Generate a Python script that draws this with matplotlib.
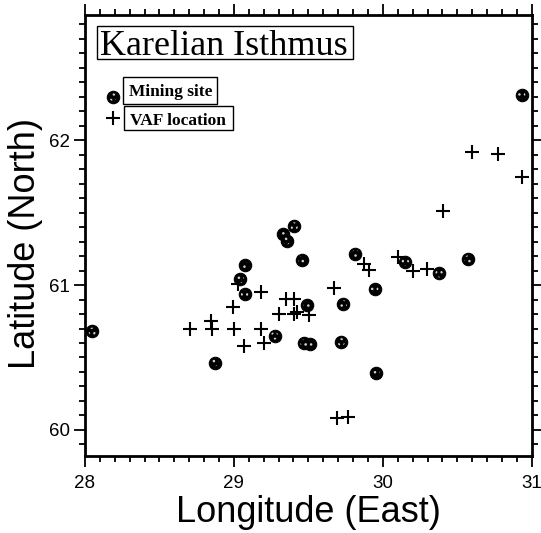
import numpy as np
import matplotlib
matplotlib.use('Agg')
import matplotlib.pyplot as plt
from matplotlib.ticker import MultipleLocator
from matplotlib.patches import Rectangle

# mining sites (lon, lat)
mine_lon = [28.05, 28.87, 29.405, 29.333, 29.354, 29.456, 29.072, 29.042, 29.072, 29.494,
            29.273, 29.472, 29.510, 30.931, 29.816, 30.150, 30.378, 30.573, 29.944, 29.734,
            29.720, 29.953]
mine_lat = [60.68, 60.465, 61.407, 61.350, 61.306, 61.172, 61.136, 61.041, 60.940, 60.864,
            60.650, 60.598, 60.591, 62.315, 61.216, 61.161, 61.080, 61.179, 60.975, 60.869,
            60.607, 60.395]

# VAF locations
vaf_lon = [28.702, 28.843, 28.852, 28.993, 29.002, 29.025, 29.067, 29.181, 29.181, 29.199,
           29.302, 29.349, 29.403, 29.403, 29.425, 29.504, 29.669, 29.875, 29.906, 30.105,
           30.203, 30.297, 30.401, 30.600, 30.770, 30.931, 29.695, 29.767]
vaf_lat = [60.697, 60.752, 60.694, 60.851, 60.699, 61.007, 60.577, 60.952, 60.697, 60.598,
           60.800, 60.901, 60.901, 60.800, 60.816, 60.796, 60.983, 61.145, 61.103, 61.191,
           61.097, 61.108, 61.510, 61.917, 61.906, 61.743, 60.080, 60.089]

xmin, xmax = 28, 31
ymin, ymax = 59.82, 62.865

plt.rcParams['hatch.linewidth'] = 1.0

fig = plt.figure(figsize=(5.41, 5.33), dpi=100)
ax = fig.add_axes([0.157, 0.1445, 0.826, 0.8274])


def mine_marker(x, y, **kw):
    ax.scatter(x, y, s=80, facecolor='black', edgecolor='black', linewidths=0.8, zorder=3, **kw)
    ax.scatter(x, y, s=30, facecolor='none', edgecolor='#d0d0d0', linewidths=0,
               hatch='...', zorder=4, **kw)


def vaf_marker(x, y, **kw):
    ax.scatter(x, y, marker='+', s=95, color='black', linewidths=1.5, zorder=3, **kw)


mine_marker(mine_lon, mine_lat)
vaf_marker(vaf_lon, vaf_lat)

ax.set_xlim(xmin, xmax)
ax.set_ylim(ymin, ymax)
ax.xaxis.set_major_locator(MultipleLocator(1))
ax.xaxis.set_minor_locator(MultipleLocator(0.1))
ax.yaxis.set_major_locator(MultipleLocator(1))
ax.yaxis.set_minor_locator(MultipleLocator(0.1))
ax.tick_params(which='both', direction='out', top=True, right=True, width=1.3)
ax.tick_params(which='major', length=8, labelsize=13.5)
ax.tick_params(axis='x', which='major', pad=6)
ax.tick_params(axis='y', which='major', pad=3)
ax.tick_params(which='minor', length=4)
for s in ax.spines.values():
    s.set_linewidth(2)

ax.set_xlabel('Longitude (East)', fontsize=26, family='Liberation Sans', labelpad=2)
ax.set_ylabel('Latitude (North)', fontsize=26, family='Liberation Sans')
ax.yaxis.set_label_coords(-0.094, 0.482)
for lab in ax.get_xticklabels() + ax.get_yticklabels():
    lab.set_family('Liberation Sans')

# title box
ax.add_patch(Rectangle((0.0268, 0.900), 0.5728, 0.075, transform=ax.transAxes,
                       facecolor='white', edgecolor='black', linewidth=1, zorder=5))
ax.text(0.034, 0.909, 'Karelian Isthmus', transform=ax.transAxes, fontsize=26,
        family='Liberation Serif', va='baseline', ha='left', zorder=6)

# legend
mine_marker([0.0626], [0.814], transform=ax.transAxes)
vaf_marker([0.0626], [0.766], transform=ax.transAxes)
ax.add_patch(Rectangle((0.085, 0.798), 0.210, 0.061, transform=ax.transAxes,
                       facecolor='white', edgecolor='black', linewidth=1, zorder=5))
ax.add_patch(Rectangle((0.087, 0.739), 0.244, 0.055, transform=ax.transAxes,
                       facecolor='white', edgecolor='black', linewidth=1, zorder=5))
ax.text(0.098, 0.816, 'Mining site', transform=ax.transAxes, fontsize=12.5, fontweight='bold',
        family='Liberation Serif', va='baseline', ha='left', zorder=6)
ax.text(0.101, 0.751, 'VAF location', transform=ax.transAxes, fontsize=12.5, fontweight='bold',
        family='Liberation Serif', va='baseline', ha='left', zorder=6)

fig.savefig('out.png', dpi=100)
